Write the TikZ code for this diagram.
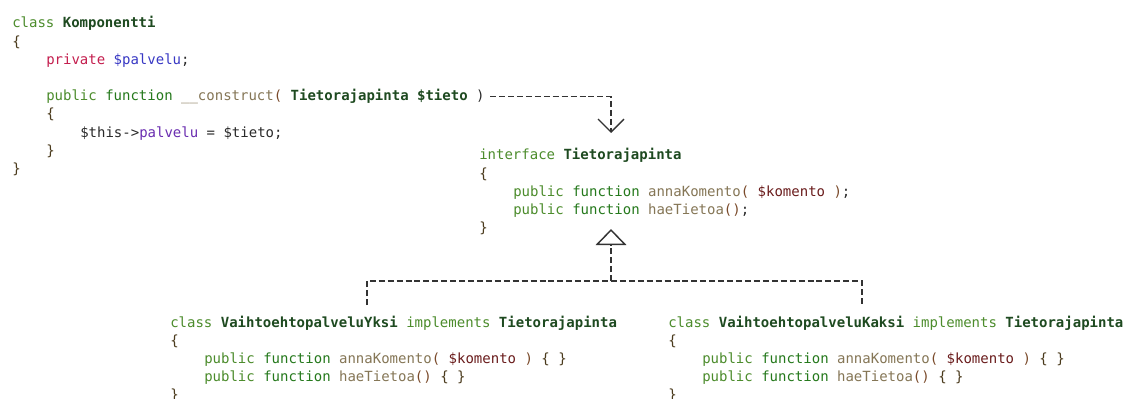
\documentclass[tikz,border=0pt]{standalone}
\usepackage{fontspec}
\setmonofont{DejaVu Sans Mono}
\usetikzlibrary{arrows.meta}
\definecolor{ckw}{HTML}{4C8C2C}
\definecolor{cfunc}{HTML}{25791C}
\definecolor{ctype}{HTML}{1E4A20}
\definecolor{cpriv}{HTML}{C41E4E}
\definecolor{cvarb}{HTML}{3838C4}
\definecolor{cprop}{HTML}{6A2DB0}
\definecolor{cfn}{HTML}{857656}
\definecolor{cpar}{HTML}{7A4A2A}
\definecolor{cvar}{HTML}{6A1C1C}
\definecolor{cdark}{HTML}{2A2A2A}
\definecolor{cbrace}{HTML}{4A3A1C}
\definecolor{cline}{HTML}{333333}
\newcommand{\ckwd}[1]{\textcolor{ckw}{#1}}
\newcommand{\cfun}[1]{\textcolor{cfunc}{#1}}
\newcommand{\ctyp}[1]{\textcolor{ctype}{\bfseries #1}}
\newcommand{\cprv}[1]{\textcolor{cpriv}{#1}}
\newcommand{\cvb}[1]{\textcolor{cvarb}{#1}}
\newcommand{\cprp}[1]{\textcolor{cprop}{#1}}
\newcommand{\cfnn}[1]{\textcolor{cfn}{#1}}
\newcommand{\cpr}[1]{\textcolor{cpar}{#1}}
\newcommand{\cvr}[1]{\textcolor{cvar}{#1}}
\newcommand{\cdk}[1]{\textcolor{cdark}{#1}}
\newcommand{\cbr}[1]{\textcolor{cbrace}{#1}}
\tikzset{
  code/.style={inner sep=0pt, anchor=base west, text=cdark,
    font=\ttfamily\fontsize{10.5pt}{12pt}\selectfont},
  dep/.style={draw=cline, line width=1.1pt, dash pattern=on 4.5pt off 2.2pt},
}
\begin{document}
\begin{tikzpicture}[x=0.75pt,y=-0.75pt]
\useasboundingbox (0,0) rectangle (1127,399);
\clip (0,0) rectangle (1127,399);
\fill[white] (0,0) rectangle (1127,399);
% class Komponentti
\node[code] (k0) at (12,28) {\ckwd{class} \ctyp{Komponentti}};
\node[code] (k1) at (12,46.2) {\cbr{\{}};
\node[code] (k2) at (46,64.4) {\cprv{private} \cvb{\$palvelu};};
\node[code] (ctor) at (46,100.8) {\ckwd{public} \cfun{function} \cfnn{\_\_construct}\cpr{(} \ctyp{Tietorajapinta \$tieto} \cdk{)}};
\node[code] (k5) at (46,119) {\cbr{\{}};
\node[code] (k6) at (80,137.2) {\$this->\cprp{palvelu} = \$tieto;};
\node[code] (k7) at (46,155.4) {\cbr{\}}};
\node[code] (k8) at (12,173.6) {\cbr{\}}};
% interface
\node[code] (i0) at (479,160) {\ckwd{interface} \ctyp{Tietorajapinta}};
\node[code] (i1) at (479,178.2) {\cbr{\{}};
\node[code] (i2) at (513,196.4) {\ckwd{public} \cfun{function} \cfnn{annaKomento}\cpr{(} \cvr{\$komento} \cpr{)};};
\node[code] (i3) at (513,214.6) {\ckwd{public} \cfun{function} \cfnn{haeTietoa}\cpr{()};};
\node[code] (i4) at (479,232.8) {\cbr{\}}};
% class one
\node[code] (a0) at (170,327) {\ckwd{class} \ctyp{VaihtoehtopalveluYksi} \ckwd{implements} \ctyp{Tietorajapinta}};
\node[code] (a1) at (170,345.2) {\cbr{\{}};
\node[code] (a2) at (204,363.4) {\ckwd{public} \cfun{function} \cfnn{annaKomento}\cpr{(} \cvr{\$komento} \cpr{)} \cbr{\{ \}}};
\node[code] (a3) at (204,381.6) {\ckwd{public} \cfun{function} \cfnn{haeTietoa}\cpr{()} \cbr{\{ \}}};
\node[code] (a4) at (170,399.8) {\cbr{\}}};
% class two
\node[code] (b0) at (668,327) {\ckwd{class} \ctyp{VaihtoehtopalveluKaksi} \ckwd{implements} \ctyp{Tietorajapinta}};
\node[code] (b1) at (668,345.2) {\cbr{\{}};
\node[code] (b2) at (702,363.4) {\ckwd{public} \cfun{function} \cfnn{annaKomento}\cpr{(} \cvr{\$komento} \cpr{)} \cbr{\{ \}}};
\node[code] (b3) at (702,381.6) {\ckwd{public} \cfun{function} \cfnn{haeTietoa}\cpr{()} \cbr{\{ \}}};
\node[code] (b4) at (668,399.8) {\cbr{\}}};
% connector coordinates
\coordinate (ctorend) at ([xshift=4]ctor.east);
\coordinate (itip) at (611,133);
\coordinate (tri) at (611,229);
\coordinate (jn) at (611,281);
\coordinate (atop) at (367,305);
\coordinate (btop) at (862,305);
% dependency arrow
\draw[dep, -{Straight Barb[length=9.75pt,width=19.5pt,line width=1pt]}] (ctorend) -| (itip);
% realization
\draw[dep, -{Triangle[open,fill=white,length=12pt,width=23pt,line width=1.1pt]}] (jn) -- (tri);
\draw[dep] (atop) |- (jn) -| (btop);
\end{tikzpicture}
\end{document}
